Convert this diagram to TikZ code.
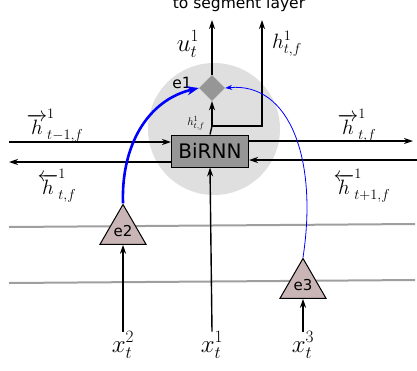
\documentclass[tikz,border=0pt]{standalone}
\usepackage{fontspec}
\setsansfont{DejaVu Sans}
\usetikzlibrary{arrows.meta,shapes.geometric}
\definecolor{trifill}{RGB}{201,181,181}
\definecolor{boxgray}{RGB}{150,150,150}
\begin{document}
\begin{tikzpicture}[x=1pt,y=-1pt,
  arr/.style={-{Stealth[length=9pt,width=6pt]},line width=1.4pt},
  ln/.style={line width=1.4pt},
  lbl/.style={font=\fontsize{21}{24}\selectfont,inner sep=0pt},
  biglbl/.style={font=\fontsize{27}{30}\selectfont,inner sep=0pt},
  sflbl/.style={font=\sffamily\fontsize{15.5}{18}\selectfont,inner sep=0pt},
  layer/.style={gray!75,line width=2pt},
  enc/.style={regular polygon,regular polygon sides=3,draw,line width=1pt,fill=trifill,minimum size=44pt,inner sep=0pt,font=\sffamily\fontsize{15}{17}\selectfont}]
\useasboundingbox (0,0) rectangle (417,370);
\fill[gray!25] (214,129) circle (66);
% layer lines
\draw[layer] (9,227) -- (415,224);
\draw[layer] (9,283) -- (415,280);
% nodes
\node[draw,line width=1pt,fill=boxgray,minimum width=77pt,minimum height=32pt,font=\sffamily\fontsize{20}{24}\selectfont] (rnn) at (210,151) {BiRNN};
\node[diamond,fill=boxgray,minimum size=26pt,inner sep=0pt] (e1) at (212,88) {};
\node[sflbl] (e1lbl) at (182,83) {e1};
\node[enc] (e2) at (123,231) {e2};
\node[enc] (e3) at (303,285) {e3};
\node[biglbl] (x2) at (123,345) {$x_t^2$};
\node[biglbl] (x1) at (212,345) {$x_t^1$};
\node[biglbl] (x3) at (303,345) {$x_t^3$};
\node[sflbl,anchor=base] (seg) at (239,8) {to segment layer};
\node[biglbl] (ulbl) at (188,44) {$u_t^1$};
\node[lbl] (hlbl) at (287,44) {$h_{t,f}^1$};
\node[font=\fontsize{11}{13}\selectfont,inner sep=0pt] (hsmall) at (196,123) {$h_{t,f}^1$};
\node[lbl] (hf0) at (55,126) {$\overrightarrow{h}^1_{t-1,f}$};
\node[lbl] (hf1) at (357,126) {$\overrightarrow{h}^1_{t,f}$};
\node[lbl] (hb0) at (57,186) {$\overleftarrow{h}^1_{t,f}$};
\node[lbl] (hb1) at (362,186) {$\overleftarrow{h}^1_{t+1,f}$};
% end points
\coordinate (fin) at (9,142);
\coordinate (fout) at (413,141);
\coordinate (bin) at (417,160);
\coordinate (bout) at (9,162);
\coordinate (jn) at (212,126);
\coordinate (top1) at (212,20);
\coordinate (top2) at (262,20);
% connectors
\draw[arr] (fin) -- (fin -| rnn.west);
\draw[arr] (rnn.east |- fout) -- (fout);
\draw[arr] (bin) -- (bin -| rnn.east);
\draw[arr] (rnn.west |- bout) -- (bout);
\draw[arr] (x1.north) -- (rnn.south);
\draw[ln] (rnn.north) -- (jn);
\draw[arr] (jn) -- (e1.south);
\draw[arr] (jn) -| (top2);
\draw[arr] (e1.north) -- (top1);
\draw[arr] (x2.north) -- (e2.side 2);
\draw[arr] (x3.north) -- (e3.side 2);
\draw[blue,line width=2.6pt,-{Stealth[length=12pt,width=9pt]}] (e2.corner 1) .. controls (121,145) and (148,100) .. (e1.west);
\draw[blue,line width=0.8pt,-{Stealth[length=7pt,width=5pt]}] (e3.corner 1) .. controls (318,160) and (290,82) .. (e1.east);
\end{tikzpicture}
\end{document}
